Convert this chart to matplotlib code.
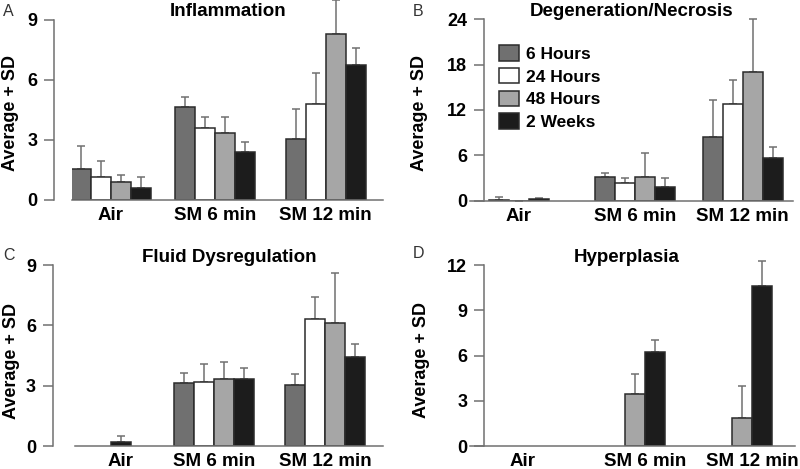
import matplotlib
matplotlib.use("Agg")
import matplotlib.pyplot as plt
import matplotlib.patches as mpatches

plt.rcParams['font.family'] = ['Liberation Sans', 'DejaVu Sans']

groups = ["Air", "SM 6 min", "SM 12 min"]
series = ["6 Hours", "24 Hours", "48 Hours", "2 Weeks"]

# rows = series (6h, 24h, 48h, 2w), cols = groups; None = no bar
infl_mean = [[1.55, 4.67, 3.03], [1.13, 3.58, 4.80], [0.90, 3.35, 8.32], [0.62, 2.40, 6.77]]
infl_sd = [[1.17, 0.50, 1.52], [0.83, 0.55, 1.53], [0.35, 0.78, 1.68], [0.55, 0.52, 0.82]]

degen_mean = [[0.10, 3.13, 8.43], [0.0, 2.29, 12.84], [None, 3.09, 17.07], [0.22, 1.85, 5.69]]
degen_sd = [[0.43, 0.53, 4.85], [0.0, 0.75, 3.17], [None, 3.26, 6.97], [0.18, 1.10, 1.46]]

fluid_mean = [[None, 3.15, 3.02], [None, 3.20, 6.30], [None, 3.33, 6.14], [0.18, 3.33, 4.41]]
fluid_sd = [[None, 0.47, 0.56], [None, 0.90, 1.13], [None, 0.85, 2.48], [0.32, 0.53, 0.68]]

hyper_mean = [[None, None, None], [None, None, None], [None, 3.47, 1.83], [None, 6.23, 10.63]]
hyper_sd = [[None, None, None], [None, None, None], [None, 1.28, 2.17], [None, 0.80, 1.64]]

COLORS = ["#707070", "#ffffff", "#a6a6a6", "#1c1c1c"]
EDGE = "#2b2b2b"
AXC = "#707070"
BW = 20  # bar width in pixels
W, H = 800, 469
FS = 13.5

fig = plt.figure(figsize=(8, 4.69), dpi=100)


def axes_px(x0, x1, ytop, ybot):
    ax = fig.add_axes([x0 / W, 1 - ybot / H, (x1 - x0) / W, (ybot - ytop) / H])
    ax.set_xlim(x0, x1)
    return ax


def panel(ax, means, sds, ymax, ticks, centers, spine_off):
    for g, cx in enumerate(centers):
        present = [s for s in range(4) if means[s][g] is not None]
        n = len(present)
        for k, s in enumerate(present):
            x = cx + (k - (n - 1) / 2) * BW
            m, sd = means[s][g], sds[s][g]
            ax.errorbar(x, m, yerr=[[0], [sd]], fmt="none", ecolor=AXC,
                        elinewidth=1.1, capsize=3.2, capthick=1.1, zorder=1,
                        clip_on=False)
            ax.bar(x, m, BW, color=COLORS[s], edgecolor=EDGE, lw=1.1, zorder=2)
    ax.set_ylim(0, ymax)
    for sp in ("top", "right"):
        ax.spines[sp].set_visible(False)
    ax.spines["left"].set_position(("outward", spine_off))
    for sp in ("left", "bottom"):
        ax.spines[sp].set_color(AXC)
        ax.spines[sp].set_linewidth(1.1)
    ax.set_yticks(ticks)
    ax.set_yticklabels([str(t) for t in ticks], fontweight="bold", fontsize=13)
    ax.tick_params(axis="y", length=7.5, width=1.1, color=AXC, pad=4.5)
    ax.set_xticks(centers)
    ax.set_xticklabels(groups, fontweight="bold", fontsize=FS)
    ax.tick_params(axis="x", length=0, pad=5)
    ax.patch.set_alpha(0)


axA = axes_px(72, 383, 20, 200)
panel(axA, infl_mean, infl_sd, 9, [0, 3, 6, 9], [110.5, 215, 325.5], 13)
axB = axes_px(470, 793, 19.3, 200.7)
panel(axB, degen_mean, degen_sd, 24, [0, 6, 12, 18, 24], [519, 635, 742.5], -10)
axC = axes_px(75, 383, 265, 446)
panel(axC, fluid_mean, fluid_sd, 9, [0, 3, 6, 9], [121, 214, 325], 16)
axD = axes_px(470, 795, 265, 446)
panel(axD, hyper_mean, hyper_sd, 12, [0, 3, 6, 9, 12], [523, 645, 752], -10)


def ftext(x, y, s, **kw):
    fig.text(x / W, 1 - y / H, s, **kw)


for x, y, s in [(228, 11, "Inflammation"), (632, 11, "Degeneration/Necrosis"),
                (229, 257, "Fluid Dysregulation"), (627, 258, "Hyperplasia")]:
    ftext(x, y, s, ha="center", va="center", fontweight="bold", fontsize=FS)
for x, y, s in [(3, 12, "A"), (413, 12, "B"), (3, 256, "C"), (413, 253, "D")]:
    ftext(x, y, s, ha="left", va="center", fontsize=11.5, color="#333333")
for x, y in [(11, 113), (420, 113), (12, 361), (421, 360)]:
    ftext(x, y, "Average + SD", ha="center", va="center", rotation=90,
          fontweight="bold", fontsize=13)

handles = [mpatches.Patch(facecolor=c, edgecolor=EDGE, lw=1.1) for c in COLORS]
fig.legend(handles, series, loc="upper left", bbox_to_anchor=(499 / W, 1 - 45 / H),
           frameon=False, prop={"weight": "bold", "size": 12.5},
           handlelength=1.15, handleheight=1.0, labelspacing=0.35,
           handletextpad=0.4, borderpad=0, borderaxespad=0)

fig.savefig("out.png", dpi=100)
